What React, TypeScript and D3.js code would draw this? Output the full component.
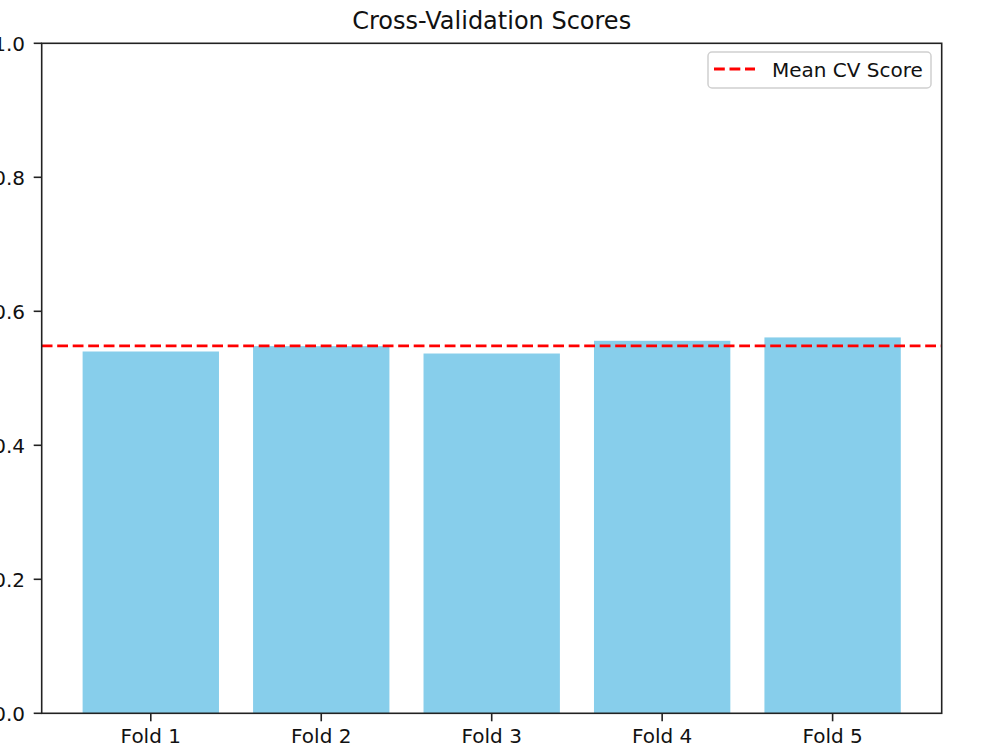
import React from 'react';
import * as d3 from 'd3';

const folds = ['Fold 1', 'Fold 2', 'Fold 3', 'Fold 4', 'Fold 5'];
const scores = [0.540, 0.548, 0.537, 0.556, 0.561];
const yTicks = [0, 0.2, 0.4, 0.6, 0.8, 1.0];

const W = 1000;
const H = 750;
const plot = { left: 41.7, right: 941.7, top: 43.3, bottom: 713.3 };
const FONT = '"DejaVu Sans", Verdana, sans-serif';

const App = () => {
    const x = d3.scaleBand<string>()
        .domain(folds)
        .range([plot.left, plot.right])
        .paddingInner(0.2)
        .paddingOuter(0.24);

    const y = d3.scaleLinear().domain([0, 1]).range([plot.bottom, plot.top]);
    const meanScore = d3.mean(scores) as number;
    const fmt = d3.format('.1f');

    return (
        <svg width={W} height={H} style={{ position: 'absolute', left: 0, top: 0, background: '#fff' }}
            fontFamily={FONT}>
            <rect width={W} height={H} fill="#fff" />

            {/* bars */}
            {scores.map((s, i) => (
                <rect key={folds[i]}
                    x={x(folds[i])}
                    y={y(s)}
                    width={x.bandwidth()}
                    height={y(0) - y(s)}
                    fill="#87CEEB" />
            ))}

            {/* mean line across the axes */}
            <line x1={plot.left} x2={plot.right} y1={y(meanScore)} y2={y(meanScore)}
                stroke="#ff0000" strokeWidth={2.9} strokeDasharray="10.8,4.7" />

            {/* frame */}
            <rect x={plot.left} y={plot.top} width={plot.right - plot.left} height={plot.bottom - plot.top}
                fill="none" stroke="#222" strokeWidth={1.6} />

            {/* y axis */}
            {yTicks.map(t => (
                <g key={t}>
                    <line x1={plot.left - 8} x2={plot.left} y1={y(t)} y2={y(t)} stroke="#222" strokeWidth={1.6} />
                    <text x={25} y={y(t)} dy="0.36em" textAnchor="end" fontSize={20} fill="#111">{fmt(t)}</text>
                </g>
            ))}

            {/* x axis */}
            {folds.map(f => {
                const cx = (x(f) as number) + x.bandwidth() / 2;
                return (
                    <g key={f}>
                        <line x1={cx} x2={cx} y1={plot.bottom} y2={plot.bottom + 8} stroke="#222" strokeWidth={1.6} />
                        <text x={cx} y={743.3} textAnchor="middle" fontSize={20} fill="#111">{f}</text>
                    </g>
                );
            })}

            {/* title */}
            <text x={(plot.left + plot.right) / 2} y={29} textAnchor="middle" fontSize={24} fill="#111">
                Cross-Validation Scores
            </text>

            {/* legend */}
            <g>
                <rect x={708} y={52} width={223} height={36} rx={4} fill="#fff" fillOpacity={0.8}
                    stroke="#d0d0d0" strokeWidth={1.5} />
                <line x1={714} x2={755} y1={69} y2={69} stroke="#ff0000" strokeWidth={2.9}
                    strokeDasharray="10.8,4.7" />
                <text x={772} y={76.5} fontSize={20} fill="#111">Mean CV Score</text>
            </g>
        </svg>
    );
};

export default App;
